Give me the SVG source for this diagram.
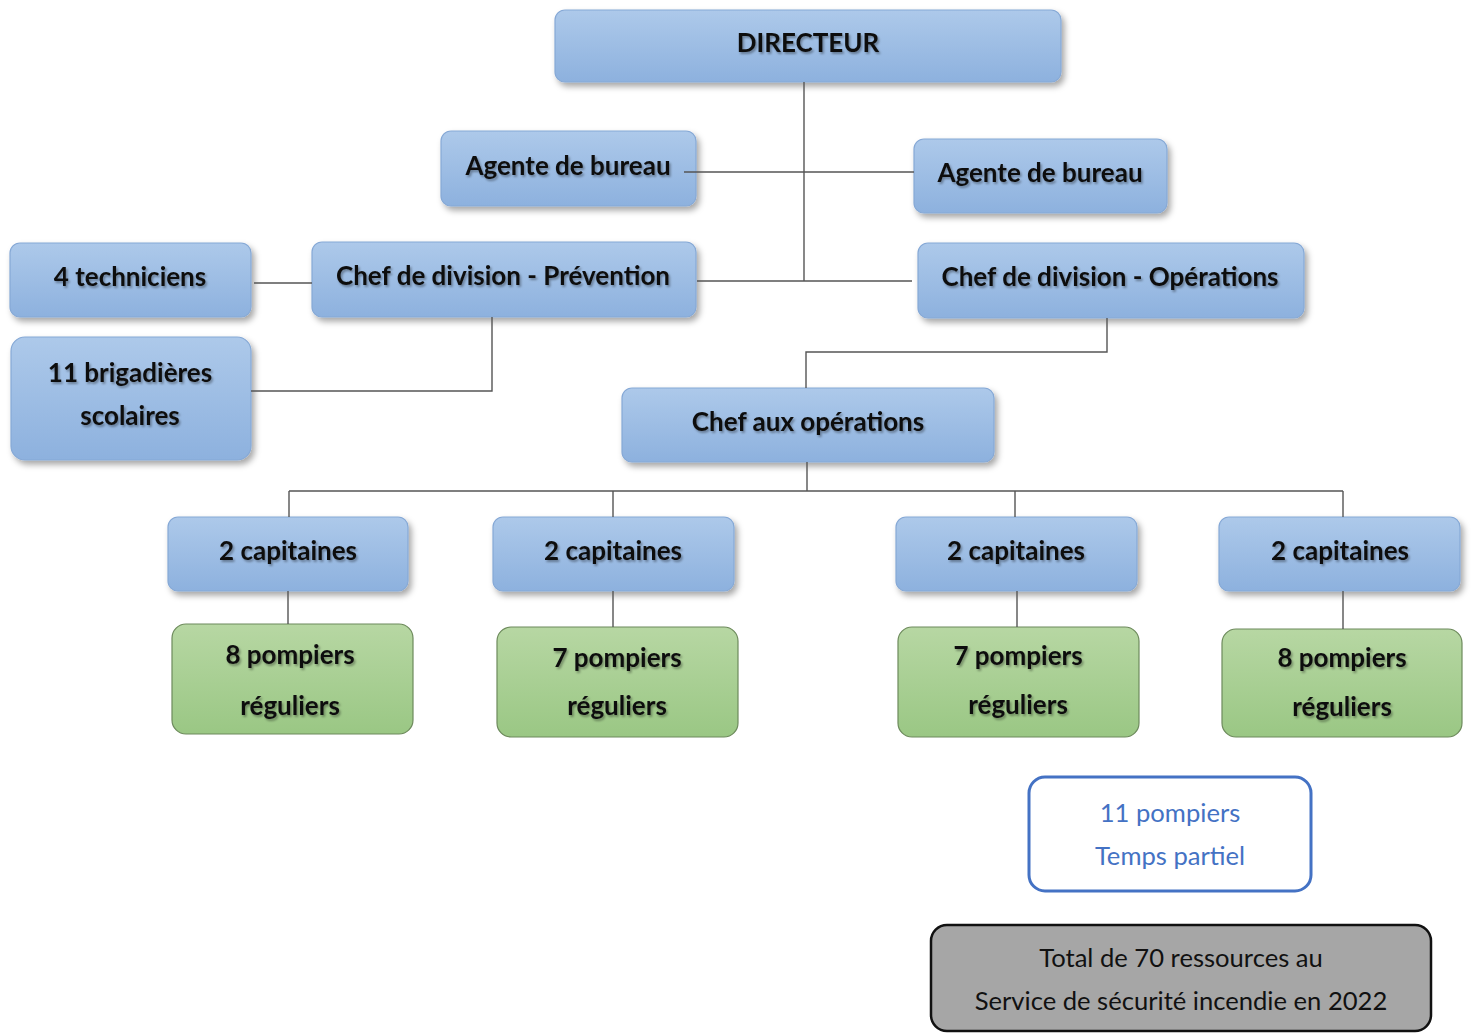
<svg xmlns="http://www.w3.org/2000/svg" width="1472" height="1033" viewBox="0 0 1472 1033">
<defs>
<linearGradient id="gBlue" x1="0" y1="0" x2="0" y2="1">
<stop offset="0" stop-color="#adc9ea"/>
<stop offset="1" stop-color="#8db1de"/>
</linearGradient>
<linearGradient id="gGreen" x1="0" y1="0" x2="0" y2="1">
<stop offset="0" stop-color="#b7d7a3"/>
<stop offset="1" stop-color="#9ac784"/>
</linearGradient>
<filter id="boxShadow" x="-10%" y="-10%" width="125%" height="135%">
<feDropShadow dx="3" dy="4" stdDeviation="3" flood-color="#000" flood-opacity="0.35"/>
</filter>
<filter id="txtShadow" x="-5%" y="-20%" width="115%" height="150%">
<feDropShadow dx="1.5" dy="2" stdDeviation="1" flood-color="#000" flood-opacity="0.35"/>
</filter>
</defs>
<style>
.blue{fill:url(#gBlue);stroke:#86a9d6;stroke-width:1.2;filter:url(#boxShadow)}
.green{fill:url(#gGreen);stroke:#6d8a5c;stroke-width:1.2}
.lbl{font-family:Lato,"Liberation Sans",sans-serif;font-weight:bold;font-size:26px;fill:#111;text-anchor:middle;filter:url(#txtShadow)}
.plain{font-family:Lato,"Liberation Sans",sans-serif;font-size:25.6px;text-anchor:middle}
.conn{fill:none;stroke:#555;stroke-width:1.4}
</style>
<rect width="1472" height="1033" fill="#fff"/>
<g id="directeur"><rect class="blue" x="555" y="10" width="506" height="72" rx="10"/><text class="lbl" x="808" y="52">DIRECTEUR</text></g>
<g id="agente-gauche"><rect class="blue" x="441" y="131" width="255" height="75" rx="10"/><text class="lbl" x="568" y="175">Agente de bureau</text></g>
<g id="agente-droite"><rect class="blue" x="914" y="139" width="253" height="74" rx="10"/><text class="lbl" x="1040" y="182">Agente de bureau</text></g>
<g id="techniciens"><rect class="blue" x="10" y="243" width="241" height="74" rx="10"/><text class="lbl" x="130" y="286">4 techniciens</text></g>
<g id="chef-prevention"><rect class="blue" x="312" y="242" width="384" height="75" rx="10"/><text class="lbl" x="503" y="285">Chef de division - Prévention</text></g>
<g id="chef-operations"><rect class="blue" x="918" y="243" width="386" height="75" rx="10"/><text class="lbl" x="1110" y="286">Chef de division - Opérations</text></g>
<g id="brigadieres"><rect class="blue" x="11" y="337" width="240" height="123" rx="14"/><text class="lbl" x="130" y="382">11 brigadières</text><text class="lbl" x="130" y="425">scolaires</text></g>
<g id="chef-aux-operations"><rect class="blue" x="622" y="388" width="372" height="74" rx="10"/><text class="lbl" x="808" y="431">Chef aux opérations</text></g>
<g id="capitaines-1"><rect class="blue" x="168" y="517" width="240" height="74" rx="10"/><text class="lbl" x="288" y="560">2 capitaines</text></g>
<g id="capitaines-2"><rect class="blue" x="493" y="517" width="241" height="74" rx="10"/><text class="lbl" x="613" y="560">2 capitaines</text></g>
<g id="capitaines-3"><rect class="blue" x="896" y="517" width="241" height="74" rx="10"/><text class="lbl" x="1016" y="560">2 capitaines</text></g>
<g id="capitaines-4"><rect class="blue" x="1219" y="517" width="241" height="74" rx="10"/><text class="lbl" x="1340" y="560">2 capitaines</text></g>
<g id="pompiers-1"><rect class="green" x="172" y="624" width="241" height="110" rx="14"/><text class="lbl" x="290" y="664">8 pompiers</text><text class="lbl" x="290" y="715">réguliers</text></g>
<g id="pompiers-2"><rect class="green" x="497" y="627" width="241" height="110" rx="14"/><text class="lbl" x="617" y="667">7 pompiers</text><text class="lbl" x="617" y="715">réguliers</text></g>
<g id="pompiers-3"><rect class="green" x="898" y="627" width="241" height="110" rx="14"/><text class="lbl" x="1018" y="665">7 pompiers</text><text class="lbl" x="1018" y="714">réguliers</text></g>
<g id="pompiers-4"><rect class="green" x="1222" y="629" width="240" height="108" rx="14"/><text class="lbl" x="1342" y="667">8 pompiers</text><text class="lbl" x="1342" y="716">réguliers</text></g>
<g id="temps-partiel"><rect x="1029" y="777" width="282" height="114" rx="16" fill="#fff" stroke="#4472c4" stroke-width="3"/><text class="plain" x="1170" y="822" fill="#4472c4">11 pompiers</text><text class="plain" x="1170" y="865" fill="#4472c4">Temps partiel</text></g>
<g id="total"><rect x="931" y="925" width="500" height="106" rx="16" fill="#a6a6a6" stroke="#111" stroke-width="2.5"/><text class="plain" x="1181" y="967" fill="#111">Total de 70 ressources au</text><text class="plain" x="1181" y="1010" fill="#111">Service de sécurité incendie en 2022</text></g>
<g id="connectors" class="conn">
<path d="M804 82V281"/>
<path d="M684 172H914"/>
<path d="M697 281H912"/>
<path d="M254 283H312"/>
<path d="M492 317V391H251"/>
<path d="M1107 318V352H806V388"/>
<path d="M807 462V491"/>
<path d="M289 491H1343"/>
<path d="M289 491V517M613 491V517M1015 491V517M1343 491V517"/>
<path d="M288 591V624M613 591V627M1017 591V627M1343 591V629"/>
</g>
</svg>
